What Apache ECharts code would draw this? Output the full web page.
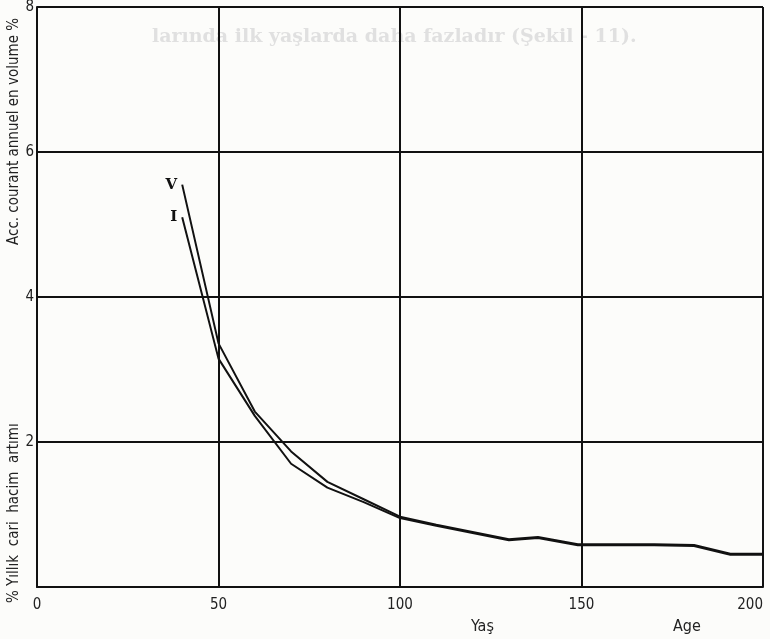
<!DOCTYPE html>
<html>
<head>
<meta charset="utf-8">
<script src="https://cdn.jsdelivr.net/npm/echarts@6/dist/echarts.min.js"></script>
<style>
  html, body { margin: 0; padding: 0; background: #fcfcfa; }
  #chart { width: 770px; height: 639px; }
</style>
</head>
<body>
<div id="chart"></div>
<script>
// ages (x) and increment values (%)
var ageV = [40, 50, 60, 70, 80, 90, 100, 110, 120, 130, 138, 149, 160, 170, 181, 191, 200];
var valV = [5.55, 3.36, 2.42, 1.87, 1.45, 1.21, 0.97, 0.86, 0.76, 0.66, 0.69, 0.59, 0.59, 0.59, 0.58, 0.46, 0.46];
var ageI = [40, 50, 60, 70, 80, 90, 100, 110, 120, 130, 138, 149, 160, 170, 181, 191, 200];
var valI = [5.1, 3.15, 2.36, 1.70, 1.37, 1.17, 0.95, 0.845, 0.745, 0.645, 0.675, 0.575, 0.575, 0.575, 0.565, 0.445, 0.445];
var xTicks = [0, 50, 100, 150, 200];
var yTicks = [0, 2, 4, 6, 8];

var labelFont = 'DejaVu Sans Condensed, Liberation Sans Narrow, sans-serif';

function pairs(xs, ys, name) {
  return xs.map(function (x, i) {
    var item = { value: [x, ys[i]] };
    if (i === 0) {
      item.label = {
        show: true, position: 'left', distance: 5, formatter: name,
        fontFamily: 'DejaVu Serif, serif', fontWeight: 'bold', fontSize: 15, color: '#111'
      };
    }
    return item;
  });
}

var myChart = echarts.init(document.getElementById('chart'));

var option = {
  backgroundColor: '#fcfcfa',
  animation: false,
  grid: { left: 37, right: 7, top: 7, bottom: 52, containLabel: false, outerBoundsMode: 'none' },
  xAxis: {
    type: 'value', min: xTicks[0], max: xTicks[xTicks.length - 1], interval: 50,
    axisLine: { lineStyle: { color: '#111', width: 2 } },
    axisTick: { show: false },
    splitLine: { lineStyle: { color: '#111', width: 2 } },
    axisLabel: {
      color: '#222', fontSize: 15, margin: 11, fontFamily: labelFont,
      alignMaxLabel: 'right'
    }
  },
  yAxis: {
    type: 'value', min: yTicks[0], max: yTicks[yTicks.length - 1], interval: 2,
    axisLine: { show: true, lineStyle: { color: '#111', width: 2 } },
    axisTick: { show: false },
    splitLine: { lineStyle: { color: '#111', width: 2 } },
    axisLabel: {
      color: '#222', fontSize: 15, margin: 3, fontFamily: labelFont,
      formatter: function (v) { return v === 0 ? '' : String(v); }
    }
  },
  graphic: [
    {
      type: 'text', left: 152, top: 28, z: -10, silent: true,
      style: {
        text: 'larında ilk yaşlarda daha fazladır (Şekil - 11).',
        font: 'bold 19px "DejaVu Serif", serif', fill: '#e0e0e0'
      }
    },
    {
      type: 'text', x: 7, y: 603, rotation: Math.PI / 2,
      style: {
        text: '% Yıllık  cari  hacim  artımı',
        font: '15px "DejaVu Sans Condensed", sans-serif', fill: '#222'
      }
    },
    {
      type: 'text', x: 7, y: 245, rotation: Math.PI / 2,
      style: {
        text: 'Acc. courant annuel en volume %',
        font: '15px "DejaVu Sans Condensed", sans-serif', fill: '#222'
      }
    },
    {
      type: 'text', left: 471, top: 619,
      style: { text: 'Yaş', font: '16px "DejaVu Sans Condensed", sans-serif', fill: '#222' }
    },
    {
      type: 'text', left: 673, top: 619,
      style: { text: 'Age', font: '16px "DejaVu Sans Condensed", sans-serif', fill: '#222' }
    }
  ],
  series: [
    {
      name: 'V', type: 'line', data: pairs(ageV, valV, 'V'),
      symbol: 'circle', symbolSize: 0, lineStyle: { color: '#111', width: 2 },
      itemStyle: { color: '#111' }, z: 5
    },
    {
      name: 'I', type: 'line', data: pairs(ageI, valI, 'I'),
      symbol: 'circle', symbolSize: 0, lineStyle: { color: '#111', width: 2 },
      itemStyle: { color: '#111' }, z: 5
    }
  ]
};

myChart.setOption(option);
</script>
</body>
</html>
